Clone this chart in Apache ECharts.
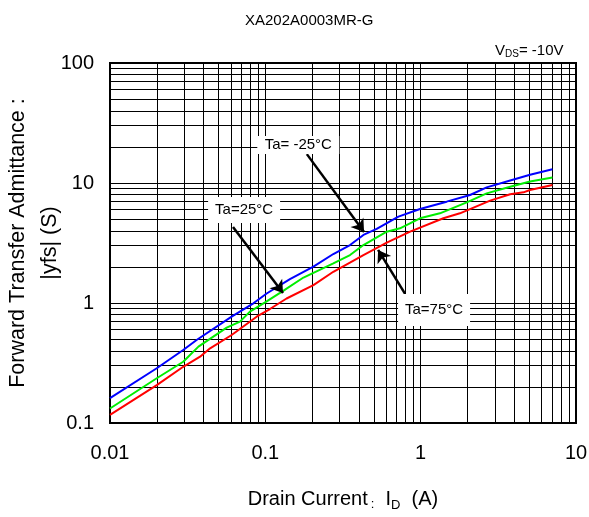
<!DOCTYPE html>
<html>
<head>
<meta charset="utf-8">
<script src="https://cdn.jsdelivr.net/npm/echarts@6/dist/echarts.min.js"></script>
<style>
html, body { margin: 0; padding: 0; background: #fff; }
#chart { width: 589px; height: 517px; }
</style>
</head>
<body>
<div id="chart"></div>
<script>
// Ta = -25 C (blue)
var idM25 = [0.01, 0.02, 0.0296, 0.0361, 0.0607, 0.0838, 0.102, 0.144, 0.204, 0.274, 0.351, 0.428, 0.521, 0.719, 0.99, 1.47, 2.08, 2.66, 3.77, 5.06, 7.05];
var yfsM25 = [0.161, 0.286, 0.406, 0.492, 0.769, 0.994, 1.20, 1.58, 2.01, 2.56, 3.04, 3.69, 4.14, 5.24, 6.07, 6.99, 7.94, 9.2, 10.5, 11.7, 13.0];
// Ta = 25 C (green)
var id25 = [0.01, 0.02, 0.0296, 0.0371, 0.0564, 0.0687, 0.0796, 0.102, 0.131, 0.176, 0.274, 0.351, 0.428, 0.605, 0.736, 0.99, 1.33, 1.98, 2.66, 3.77, 5.06, 7.05];
var yfs25 = [0.132, 0.236, 0.324, 0.433, 0.623, 0.699, 0.847, 1.03, 1.27, 1.63, 2.14, 2.51, 3.04, 3.93, 4.19, 5.08, 5.59, 6.90, 8.20, 9.32, 10.3, 11.1];
// Ta = 75 C (red)
var id75 = [0.01, 0.02, 0.0296, 0.038, 0.0441, 0.0607, 0.0879, 0.107, 0.137, 0.204, 0.274, 0.428, 0.605, 0.855, 1.40, 1.79, 2.80, 3.77, 4.59, 5.06, 7.05];
var yfs75 = [0.117, 0.207, 0.294, 0.357, 0.419, 0.541, 0.769, 0.891, 1.09, 1.41, 1.82, 2.51, 3.18, 3.93, 5.08, 5.59, 7.13, 8.05, 8.36, 8.74, 9.62];

// minor grid positions (2..9 of each decade)
var minorX = [0.02, 0.03, 0.04, 0.05, 0.06, 0.07, 0.08, 0.09, 0.2, 0.3, 0.4, 0.5, 0.6, 0.7, 0.8, 0.9, 2, 3, 4, 5, 6, 7, 8, 9];
var minorY = [0.2, 0.3, 0.4, 0.5, 0.6, 0.7, 0.8, 0.9, 2, 3, 4, 5, 6, 7, 8, 9, 20, 30, 40, 50, 60, 70, 80, 90];

function pairs(xs, ys) {
    return xs.map(function (x, i) { return [x, ys[i]]; });
}

var font = 'Liberation Sans, Arial, sans-serif';
var chart = echarts.init(document.getElementById('chart'));

var gridLines = minorX.map(function (v) { return { xAxis: v }; })
    .concat(minorY.map(function (v) { return { yAxis: v }; }));

function arrow(from, to) {
    return [{ coord: from }, { coord: to }];
}

var arrowStyle = {
    silent: true,
    symbol: ['none', 'arrow'],
    symbolSize: 12,
    label: { show: false },
    lineStyle: { color: '#000', width: 2.5, type: 'solid' }
};

function tag(text, coord, size) {
    return {
        silent: true,
        symbol: 'rect',
        symbolSize: size,
        itemStyle: { color: '#fff' },
        label: { show: true, position: 'inside', color: '#000', fontSize: 15, fontFamily: font, formatter: text },
        data: [{ coord: coord }]
    };
}

var option = {
    animation: false,
    textStyle: { fontFamily: font },
    title: [{
        text: 'XA202A0003MR-G',
        left: 240,
        top: 8,
        textStyle: { fontSize: 15, fontWeight: 'normal', color: '#000', fontFamily: font }
    }, {
        text: '{v|V}{s|DS}{v|= -10V}',
        left: 490,
        top: 37,
        textStyle: {
            fontWeight: 'normal',
            rich: {
                v: { fontSize: 15, color: '#000', fontWeight: 'normal', fontFamily: font },
                s: { fontSize: 10, color: '#000', fontWeight: 'normal', fontFamily: font, padding: [7, 0, 0, 0] }
            }
        }
    }],
    grid: {
        left: 110, right: 13, top: 63, bottom: 94,
        containLabel: false,
        outerBoundsMode: 'none',
        show: true, borderColor: '#000', borderWidth: 2, backgroundColor: '#fff'
    },
    xAxis: {
        type: 'log',
        logBase: 10,
        min: 0.01,
        max: 10,
        axisLine: { show: true, lineStyle: { color: '#000', width: 2 } },
        axisTick: { show: false },
        axisLabel: { color: '#000', fontSize: 20, margin: 20, fontFamily: font,
            formatter: function (v) { return String(+v.toPrecision(3)); } },
        splitLine: { show: true, lineStyle: { color: '#000', width: 1 } },
        name: '{n|Drain Current}{c|:}{n|  I}{s|D}{n|  (A)}',
        nameLocation: 'middle',
        nameMoveOverlap: false,
        nameGap: 64,
        nameTextStyle: {
            rich: {
                n: { fontSize: 20, color: '#000', fontFamily: font },
                c: { fontSize: 13, color: '#000', fontFamily: font, padding: [10, 0, 0, 3] },
                s: { fontSize: 13, color: '#000', fontFamily: font, padding: [12, 0, 0, 0] }
            }
        }
    },
    yAxis: {
        type: 'log',
        logBase: 10,
        min: 0.1,
        max: 100,
        axisLine: { show: true, lineStyle: { color: '#000', width: 2 } },
        axisTick: { show: false },
        axisLabel: { color: '#000', fontSize: 20, margin: 16, fontFamily: font,
            formatter: function (v) { return String(+v.toPrecision(3)); } },
        splitLine: { show: true, lineStyle: { color: '#000', width: 1 } },
        name: 'Forward Transfer Admittance :\n|yfs| (S)',
        nameLocation: 'middle',
        nameMoveOverlap: false,
        nameRotate: 90,
        nameGap: 44,
        nameTextStyle: { fontSize: 21.5, color: '#000', lineHeight: 32, fontFamily: font }
    },
    series: [{
        name: 'grid',
        type: 'line',
        silent: true,
        data: [[0.01, 0.1]],
        showSymbol: false,
        lineStyle: { opacity: 0 },
        markLine: {
            z: 1,
            silent: true,
            symbol: 'none',
            label: { show: false },
            lineStyle: { color: '#000', width: 1, type: 'solid' },
            data: gridLines
        }
    }, {
        name: 'Ta= -25°C',
        type: 'line',
        data: pairs(idM25, yfsM25),
        showSymbol: false,
        lineStyle: { color: '#0000ff', width: 2 },
        itemStyle: { color: '#0000ff' },
        markLine: Object.assign({ data: [arrow([0.185, 17.4], [0.432, 3.91])] }, arrowStyle),
        markPoint: tag('Ta= -25°C', [0.163, 20.7], [82, 18])
    }, {
        name: 'Ta=25°C',
        type: 'line',
        data: pairs(id25, yfs25),
        showSymbol: false,
        lineStyle: { color: '#00ee00', width: 2 },
        itemStyle: { color: '#00ee00' },
        markLine: Object.assign({ data: [arrow([0.0619, 4.30], [0.130, 1.21])] }, arrowStyle),
        markPoint: tag('Ta=25°C', [0.073, 5.96], [72, 26])
    }, {
        name: 'Ta=75°C',
        type: 'line',
        data: pairs(id75, yfs75),
        showSymbol: false,
        lineStyle: { color: '#ff0000', width: 2 },
        itemStyle: { color: '#ff0000' },
        markLine: Object.assign({ data: [arrow([0.794, 1.19], [0.532, 2.77])] }, arrowStyle),
        markPoint: tag('Ta=75°C', [1.22, 0.875], [72, 32])
    }]
};

chart.setOption(option);
</script>
</body>
</html>
